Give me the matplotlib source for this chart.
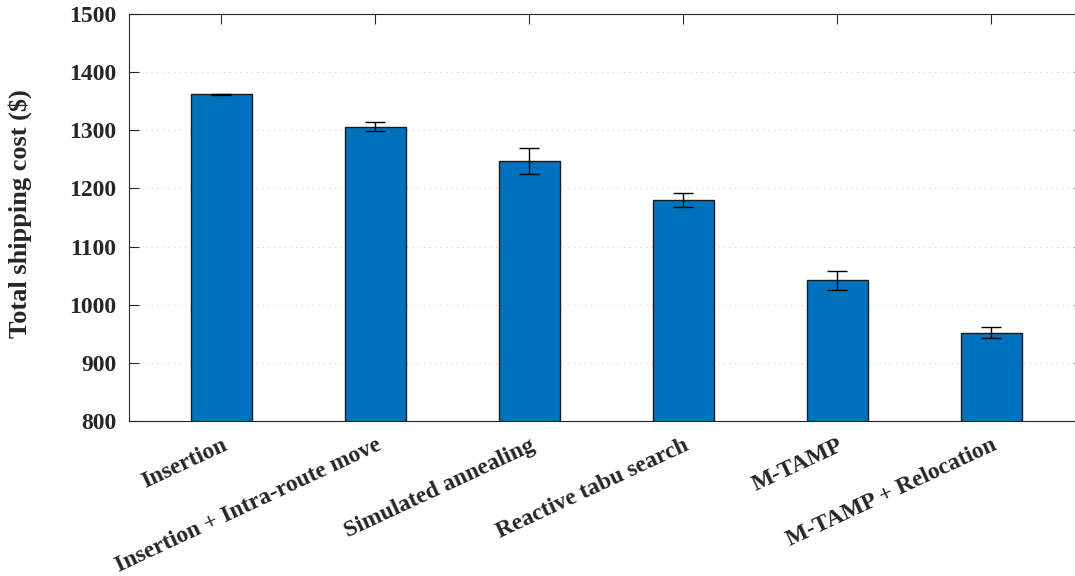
import matplotlib
matplotlib.use("Agg")
import matplotlib.pyplot as plt
import numpy as np

categories = ["Insertion", "Insertion + Intra-route move", "Simulated annealing",
              "Reactive tabu search", "M-TAMP", "M-TAMP + Relocation"]
mean_cost = [1362, 1306, 1247, 1180, 1042, 952]
err_cost = [1, 8, 22, 12, 16, 10]
yticks = [800, 900, 1000, 1100, 1200, 1300, 1400, 1500]

plt.rcParams['font.family'] = ['Liberation Serif', 'DejaVu Serif']
plt.rcParams['font.weight'] = 'bold'

fig = plt.figure(figsize=(10.75, 5.76), dpi=100)
ax = fig.add_axes([129/1075, 1-421/576, (1083.7-129)/1075, (421-14)/576])

x = np.arange(1, len(categories) + 1)
ax.bar(x, mean_cost, width=0.4, color='#0072BD', edgecolor='#1a1a1a', linewidth=1.0, zorder=2)
ax.errorbar(x, mean_cost, yerr=err_cost, fmt='none', ecolor='black', elinewidth=1.0,
            capsize=7.2, capthick=1.0, zorder=3)

ax.set_xlim(0.4, 6.6)
ax.set_ylim(800, 1500)
ax.set_yticks(yticks)
ax.set_yticklabels([str(v) for v in yticks], fontsize=17, fontweight='bold')
ax.set_xticks(x)
ax.set_xticklabels(categories, fontsize=17, fontweight='bold', rotation=25,
                   ha='right', rotation_mode='anchor')
ax.tick_params(direction='in', length=7, width=0.8, top=True, right=True, colors='#262626',
               pad=9)
ax.tick_params(axis='x', labelcolor='#262626', pad=10)
ax.set_ylabel(r'Total shipping cost (\$)', fontsize=19, fontweight='bold', color='#262626',
              labelpad=0)
ax.yaxis.set_label_coords(-97/954.7, 0.51)
ax.yaxis.grid(True, linestyle=(0, (1, 4)), color='#cfcfcf', linewidth=0.8, zorder=0)
ax.set_axisbelow(True)
for s in ax.spines.values():
    s.set_color('#262626')
    s.set_linewidth(0.8)

fig.savefig('out.png', dpi=100)
